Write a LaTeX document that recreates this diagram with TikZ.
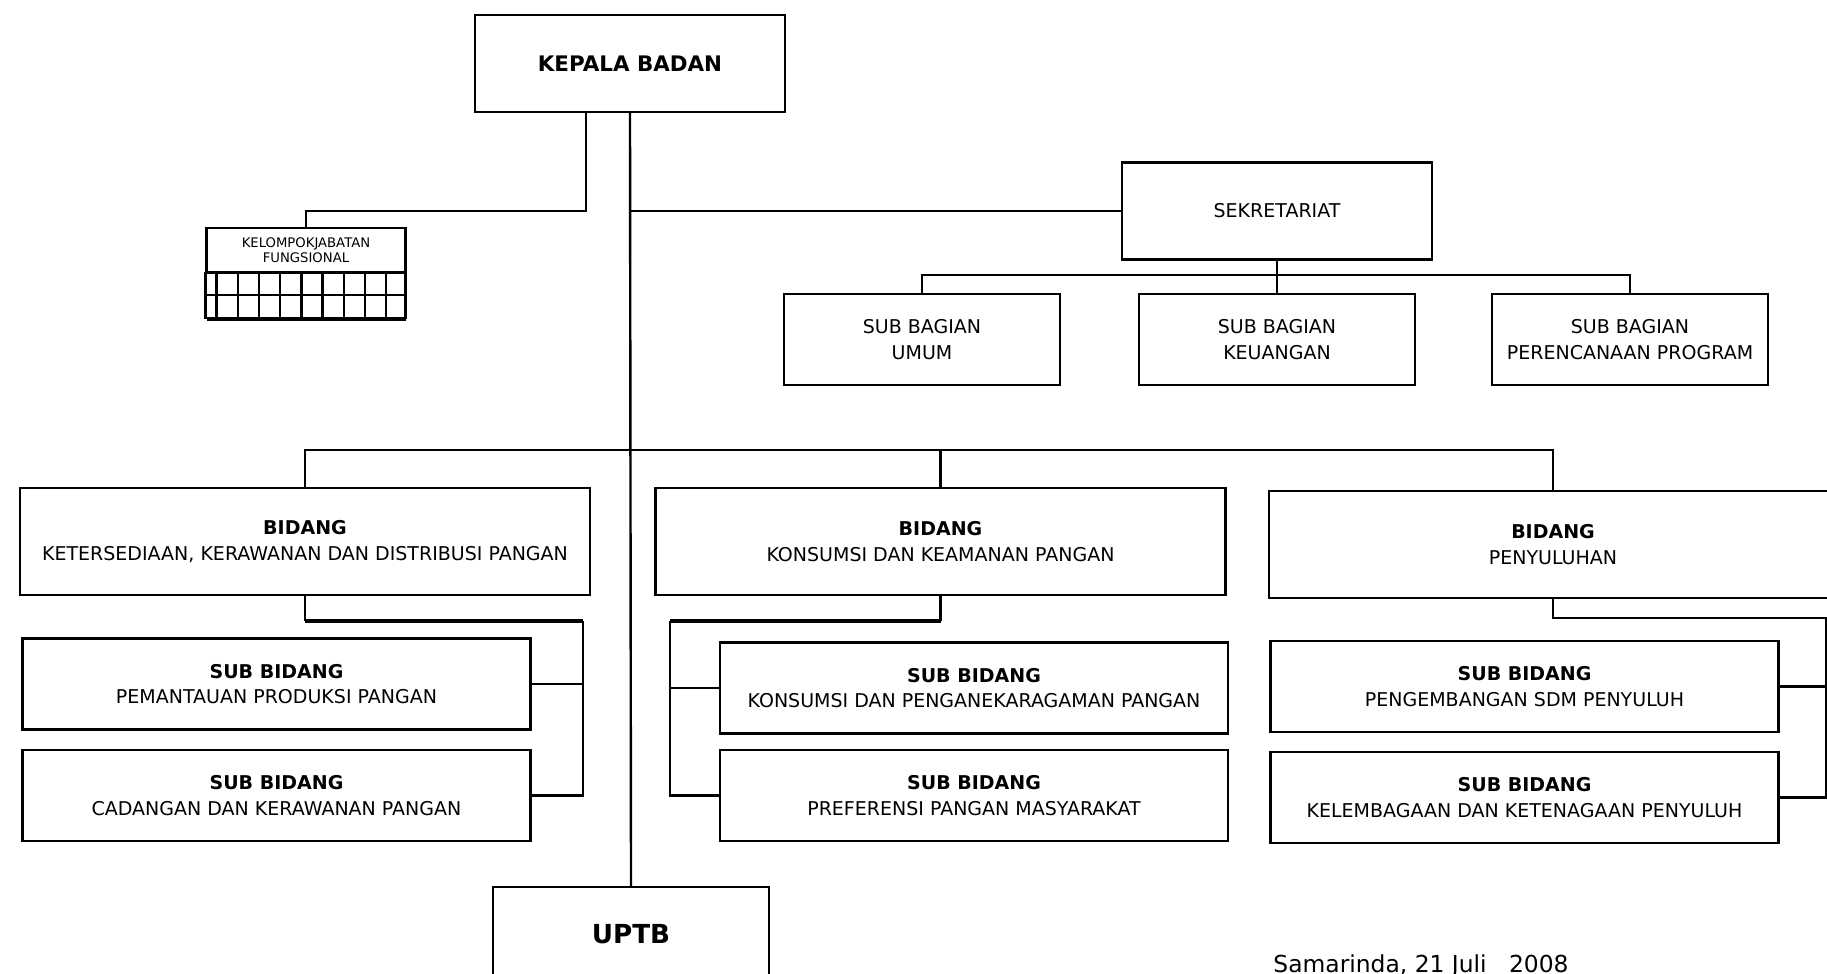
\documentclass[tikz,border=0pt]{standalone}
\usepackage{fontspec}
\setmainfont{DejaVu Sans}
\usetikzlibrary{positioning,calc}

\tikzset{
  box/.style={draw, line width=1.2pt, align=center, inner sep=0pt,
    font=\fontsize{9.5}{12.8}\selectfont},
  subbox/.style={box, minimum width=254pt, minimum height=45.5pt},
  bagbox/.style={box, minimum width=138pt, minimum height=45.5pt},
  bidbox/.style={box, minimum width=285pt, minimum height=53.5pt},
  link/.style={line width=1.2pt},
  thicklink/.style={line width=1.7pt},
}

\begin{document}
\begin{tikzpicture}[x=0.5pt,y=-0.5pt]
    \useasboundingbox (0,0) rectangle (1827,974);

    % Kepala badan
    \node[box, minimum width=155pt, minimum height=48.5pt,
      font=\fontsize{10.7}{13}\selectfont\bfseries] (kepala) at (630,63.5) {KEPALA BADAN};

    % Kelompok jabatan fungsional
    \node[box, minimum width=99.5pt, minimum height=22pt,
      font=\fontsize{6.6}{7.8}\selectfont] (kelompok) at (306,250) {KELOMPOKJABATAN\\FUNGSIONAL};
    \draw[link] (kelompok.south west) rectangle (405.5,318);
    \draw[link] (206.5,295) -- (405.5,295);
    \draw[thicklink] (206.5,319) -- (405.5,319);
    \foreach \i in {0,...,8}
        \draw[link] (216.5+21.2*\i,272) -- (216.5+21.2*\i,318);
    \coordinate (kbend) at (306,211);
    \draw[link] ([xshift=-22pt]kepala.south) |- (kbend) -- (kelompok.north);

    % Sekretariat
    \node[box, minimum width=155pt, minimum height=48.5pt] (sekre) at (1277,211) {SEKRETARIAT};
    \node[bagbox] (umum) at (922,339.5) {SUB BAGIAN\\UMUM};
    \node[bagbox] (keu) at (1277,339.5) {SUB BAGIAN\\KEUANGAN};
    \node[bagbox] (renc) at (1630,339.5) {SUB BAGIAN\\PERENCANAAN PROGRAM};
    \draw[link] (umum.north) -- ++(0,-18) -| (renc.north);
    \draw[link] (sekre.south) -- (keu.north);

    % UPTB
    \node[box, minimum width=138pt, minimum height=47pt,
      font=\fontsize{13.1}{16}\selectfont\bfseries] (uptb) at (631,934) {UPTB};
    \draw[link] (kepala.south) -- (uptb.north);
    \draw[link] (kepala.south |- sekre.west) -- (sekre.west);

    % Bidang
    \node[bidbox] (bid1) at (305,541.5) {\textbf{BIDANG}\\KETERSEDIAAN, KERAWANAN DAN DISTRIBUSI PANGAN};
    \node[bidbox] (bid2) at (940.5,541.5) {\textbf{BIDANG}\\KONSUMSI DAN KEAMANAN PANGAN};
    \node[bidbox, minimum width=284pt] (bid3) at (1553,544.5) {\textbf{BIDANG}\\PENYULUHAN};
    \draw[link] (bid1.north) -- ++(0,-37) -| (bid3.north);
    \draw[link] (bid2.north) -- ++(0,-37);

    % Sub bidang ketersediaan
    \node[subbox] (s1a) at (276.5,684) {\textbf{SUB BIDANG}\\PEMANTAUAN PRODUKSI PANGAN};
    \node[subbox] (s1b) at (276.5,795.5) {\textbf{SUB BIDANG}\\CADANGAN DAN KERAWANAN PANGAN};
    \coordinate (r1) at (583,621);
    \draw[link] (bid1.south) -- (bid1.south |- r1);
    \draw[thicklink] (bid1.south |- r1) -- (r1);
    \draw[link] (r1) |- (s1b.east);
    \draw[link] (s1a.east) -- (s1a.east -| r1);

    % Sub bidang konsumsi
    \node[subbox] (s2a) at (974,688) {\textbf{SUB BIDANG}\\KONSUMSI DAN PENGANEKARAGAMAN PANGAN};
    \node[subbox] (s2b) at (974,795.5) {\textbf{SUB BIDANG}\\PREFERENSI PANGAN MASYARAKAT};
    \coordinate (r2) at (670,621);
    \draw[link] (bid2.south) -- (bid2.south |- r2);
    \draw[thicklink] (bid2.south |- r2) -- (r2);
    \draw[link] (r2) |- (s2b.west);
    \draw[link] (s2a.west) -- (s2a.west -| r2);

    % Sub bidang penyuluhan
    \node[subbox] (s3a) at (1524.5,686.5) {\textbf{SUB BIDANG}\\PENGEMBANGAN SDM PENYULUH};
    \node[subbox] (s3b) at (1524.5,797.5) {\textbf{SUB BIDANG}\\KELEMBAGAAN DAN KETENAGAAN PENYULUH};
    \coordinate (r3) at (1826,618);
    \draw[link] (bid3.south) |- (r3) |- (s3b.east);
    \draw[link] (s3a.east) -- (s3a.east -| r3);

    % Tanggal
    \node[anchor=base west, inner sep=0pt, font=\fontsize{11.7}{13}\selectfont] (tgl)
      at (1273,972) {Samarinda, 21 Juli \ \ 2008};
\end{tikzpicture}
\end{document}
